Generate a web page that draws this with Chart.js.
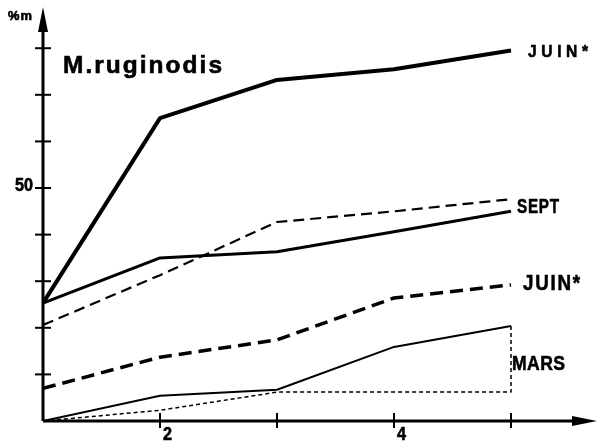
<!DOCTYPE html>
<html><head><meta charset="utf-8">
<script src="https://cdn.jsdelivr.net/npm/chart.js@4/dist/chart.umd.min.js"></script>
<style>html,body{margin:0;padding:0;background:#fff}#wrap{width:597px;height:443px}</style>
</head><body><div id="wrap"><canvas id="c" width="597" height="443"></canvas></div>
<script>
const xValues = [1, 2, 3, 4, 5];
const juinSolid = [25.3, 65, 73.2, 75.5, 79.5];
const septSolid = [25.3, 35, 36.3, 40.6, 45];
const septDashed = [20.6, 31.3, 42.7, 45, 47.6];
const juinDashed = [7, 13.7, 17.4, 26.4, 29.2];
const marsSolid = [0, 5.4, 6.7, 15.9, 20.4];
const marsDottedX = [1, 2, 3, 4, 5, 5];
const marsDotted = [0, 2.3, 6.2, 6.2, 6.2, 20.4];
const yTicks = [10, 20, 30, 40, 50, 60, 70, 80];
const xTicks = [2, 3, 4, 5];
const yTickLabels = {50: '50'};
const xTickLabels = {2: '2', 4: '4'};
const seriesLabels = [
  {text: 'JUIN*', x: 528, y: 57, size: 17, w: 60, sp: 5},
  {text: 'SEPT', x: 517, y: 213, size: 21, w: 42, sp: 1},
  {text: 'JUIN*', x: 523, y: 290, size: 22, w: 57, sp: 2},
  {text: 'MARS', x: 512, y: 370, size: 21, w: 53, sp: 0.5}
];
const FONT = "'Liberation Sans','Arial',sans-serif";

const pts = (xs, ys) => ys.map((y, i) => ({x: xs[i], y}));

function fitText(ctx, text, x, y, size, w, sp) {
  ctx.save();
  ctx.font = 'bold ' + size + 'px ' + FONT;
  ctx.letterSpacing = (sp || 0) + 'px';
  const m = ctx.measureText(text).width - (sp || 0);
  const k = w / m;
  ctx.translate(x, y);
  ctx.scale(k, 1);
  ctx.lineWidth = 0.6;
  ctx.strokeText(text, 0, 0);
  ctx.fillText(text, 0, 0);
  ctx.restore();
}

const axesPlugin = {
  id: 'axes',
  beforeDatasetsDraw(chart) {
    const ctx = chart.ctx, xs = chart.scales.x, ys = chart.scales.y;
    const x0 = xs.getPixelForValue(1), y0 = ys.getPixelForValue(0);
    ctx.save();
    ctx.strokeStyle = '#000'; ctx.fillStyle = '#000';
    ctx.lineWidth = 3;
    ctx.beginPath();
    ctx.moveTo(x0, y0); ctx.lineTo(x0, 22);
    ctx.moveTo(x0, y0); ctx.lineTo(582, y0);
    ctx.stroke();
    ctx.beginPath();
    ctx.moveTo(x0, 7); ctx.lineTo(x0 - 5, 32); ctx.lineTo(x0 + 5, 32); ctx.closePath(); ctx.fill();
    ctx.beginPath();
    ctx.moveTo(597, y0); ctx.lineTo(572, y0 - 5); ctx.lineTo(572, y0 + 5); ctx.closePath(); ctx.fill();
    ctx.lineWidth = 2;
    yTicks.forEach(v => {
      const p = ys.getPixelForValue(v);
      ctx.beginPath(); ctx.moveTo(x0 - 8, p); ctx.lineTo(x0 + 8, p); ctx.stroke();
      if (yTickLabels[v]) fitText(ctx, yTickLabels[v], 15, p + 3, 18, 18, 0);
    });
    xTicks.forEach(v => {
      const p = xs.getPixelForValue(v);
      ctx.beginPath(); ctx.moveTo(p, y0 - 8); ctx.lineTo(p, y0 + 7); ctx.stroke();
      if (xTickLabels[v]) fitText(ctx, xTickLabels[v], p + 3, 440, 18, 9, 0);
    });
    fitText(ctx, '%m', 8, 20, 12, 24, 1);
    fitText(ctx, 'M.ruginodis', 63, 73, 24, 159, 2);
    seriesLabels.forEach(l => fitText(ctx, l.text, l.x, l.y, l.size, l.w, l.sp));
    ctx.restore();
  }
};

const ds = (data, width, dash) => ({
  data, borderColor: '#000', borderWidth: width, borderDash: dash || [],
  pointRadius: 0, tension: 0, fill: false, borderJoinStyle: 'round', borderCapStyle: 'butt'
});

new Chart(document.getElementById('c'), {
  type: 'line',
  data: {
    datasets: [
      ds(pts(xValues, juinSolid), 4),
      ds(pts(xValues, septSolid), 3),
      ds(pts(xValues, septDashed), 2.2, [11, 6]),
      ds(pts(xValues, juinDashed), 3.5, [13, 7]),
      ds(pts(xValues, marsSolid), 2),
      ds(pts(marsDottedX, marsDotted), 1.5, [4, 3])
    ]
  },
  options: {
    responsive: false, animation: false,
    layout: {padding: {left: 43, top: 10, right: 7, bottom: 22}},
    plugins: {legend: {display: false}, tooltip: {enabled: false}},
    scales: {
      x: {type: 'linear', min: 1, max: 5.675, display: false},
      y: {type: 'linear', min: 0, max: 88.2, display: false}
    }
  },
  plugins: [axesPlugin]
});
</script></body></html>
